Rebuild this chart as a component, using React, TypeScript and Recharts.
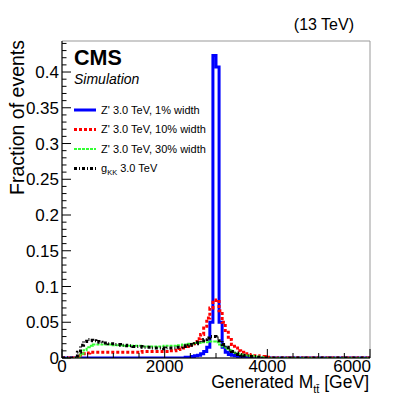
import React from 'react';
import { LineChart, Line, XAxis, YAxis, ReferenceArea } from 'recharts';

const FONT = '"Liberation Sans", Arial, Helvetica, sans-serif';

// histogram binning: 100 bins of 60 GeV from 0 to 6000 GeV
const BIN_WIDTH = 60;
const X_MAX = 6000;
const Y_MAX = 0.4434;

const X_TICKS = [0, 2000, 4000, 6000];
const X_MINOR_STEP = 500;
const Y_TICKS = [0, 0.05, 0.1, 0.15, 0.2, 0.25, 0.3, 0.35, 0.4];
const Y_TICK_LABELS = ['0', '0.05', '0.1', '0.15', '0.2', '0.25', '0.3', '0.35', '0.4'];
const Y_MINOR_STEP = 0.01;

// Z' 3.0 TeV, 1% width
const zp1 = [
  0, 0, 0, 0, 0, 0, 0, 0, 0, 0,
  0, 0, 0, 0, 0, 0, 0, 0, 0, 0,
  0, 0, 0, 0, 0, 0, 0, 0, 0, 0,
  0, 0, 0, 0, 0, 0, 0, 0, 0, 0,
  0.001, 0.001, 0.002, 0.003, 0.004, 0.006, 0.009, 0.015, 0.05, 0.423,
  0.407, 0.05, 0.015, 0.008, 0.005, 0.004, 0.003, 0.002, 0.002, 0.001,
  0.001, 0.001, 0, 0, 0, 0, 0, 0, 0, 0,
  0, 0, 0, 0, 0, 0, 0, 0, 0, 0,
  0, 0, 0, 0, 0, 0, 0, 0, 0, 0,
  0, 0, 0, 0, 0, 0, 0, 0, 0, 0,
];

// Z' 3.0 TeV, 10% width
const zp10 = [
  0, 0, 0, 0, 0, 0, 0.004, 0.006, 0.007, 0.008,
  0.008, 0.008, 0.008, 0.008, 0.008, 0.008, 0.008, 0.008, 0.008, 0.008,
  0.008, 0.008, 0.008, 0.008, 0.008, 0.008, 0.009, 0.009, 0.009, 0.009,
  0.009, 0.009, 0.009, 0.009, 0.009, 0.01, 0.01, 0.011, 0.012, 0.014,
  0.016, 0.018, 0.02, 0.023, 0.027, 0.033, 0.042, 0.056, 0.07, 0.078,
  0.081, 0.066, 0.05, 0.036, 0.026, 0.019, 0.014, 0.01, 0.008, 0.006,
  0.005, 0.004, 0.003, 0.003, 0.002, 0.002, 0.001, 0.001, 0, 0,
  0, 0, 0, 0, 0, 0, 0, 0, 0, 0,
  0, 0, 0, 0, 0, 0, 0, 0, 0, 0,
  0, 0, 0, 0, 0, 0, 0, 0, 0, 0,
];

// Z' 3.0 TeV, 30% width
const zp30 = [
  0, 0, 0, 0, 0, 0, 0.006, 0.011, 0.015, 0.017,
  0.019, 0.019, 0.019, 0.019, 0.019, 0.019, 0.018, 0.018, 0.018, 0.018,
  0.017, 0.017, 0.017, 0.017, 0.017, 0.017, 0.016, 0.016, 0.016, 0.016,
  0.016, 0.016, 0.016, 0.017, 0.017, 0.017, 0.017, 0.018, 0.018, 0.019,
  0.019, 0.02, 0.02, 0.021, 0.021, 0.022, 0.022, 0.022, 0.023, 0.023,
  0.022, 0.019, 0.016, 0.013, 0.011, 0.009, 0.007, 0.006, 0.005, 0.004,
  0.003, 0.003, 0.002, 0.002, 0.001, 0.001, 0, 0, 0, 0,
  0, 0, 0, 0, 0, 0, 0, 0, 0, 0,
  0, 0, 0, 0, 0, 0, 0, 0, 0, 0,
  0, 0, 0, 0, 0, 0, 0, 0, 0, 0,
];

// g_KK 3.0 TeV
const gkk = [
  0, 0, 0, 0, 0, 0.008, 0.018, 0.023, 0.026, 0.025,
  0.024, 0.023, 0.022, 0.021, 0.021, 0.02, 0.02, 0.019, 0.019, 0.018,
  0.018, 0.017, 0.017, 0.016, 0.016, 0.016, 0.015, 0.015, 0.015, 0.014,
  0.014, 0.014, 0.014, 0.013, 0.014, 0.014, 0.014, 0.015, 0.015, 0.016,
  0.017, 0.018, 0.019, 0.02, 0.022, 0.024, 0.026, 0.028, 0.03, 0.03,
  0.028, 0.024, 0.019, 0.015, 0.011, 0.009, 0.007, 0.005, 0.004, 0.003,
  0.003, 0.002, 0.002, 0.001, 0.001, 0, 0, 0, 0, 0,
  0, 0, 0, 0, 0, 0, 0, 0, 0, 0,
  0, 0, 0, 0, 0, 0, 0, 0, 0, 0,
  0, 0, 0, 0, 0, 0, 0, 0, 0, 0,
];

const SERIES = [
  { key: 'zp1', label: "Z' 3.0 TeV, 1% width", color: '#0000ff', width: 3, dash: undefined as string | undefined },
  { key: 'zp10', label: "Z' 3.0 TeV, 10% width", color: '#ff0000', width: 3, dash: '3 2' },
  { key: 'zp30', label: "Z' 3.0 TeV, 30% width", color: '#33ff33', width: 2, dash: '3 1' },
  { key: 'gkk', label: 'gKK', color: '#000000', width: 3, dash: '3 2 1 2' },
];

// bin edges, last edge repeats final bin so the step reaches 6000
const data = Array.from({ length: zp1.length + 1 }, (_, i) => {
  const j = Math.min(i, zp1.length - 1);
  return { m: i * BIN_WIDTH, zp1: zp1[j], zp10: zp10[j], zp30: zp30[j], gkk: gkk[j] };
});

const xTickVals: number[] = [];
for (let v = 0; v <= X_MAX; v += X_MINOR_STEP) xTickVals.push(v);
const yTickVals: number[] = [];
for (let i = 0; i * Y_MINOR_STEP <= Y_MAX; i++) yTickVals.push(Math.round(i * Y_MINOR_STEP * 100) / 100);

function YTick(props: any) {
  const { x, y, payload } = props;
  const idx = Y_TICKS.findIndex((t) => Math.abs(t - payload.value) < 1e-6);
  const major = idx >= 0;
  return (
    <g>
      <line x1={x} x2={x + (major ? 9 : 4.5)} y1={y} y2={y} stroke="#000" strokeWidth={1} />
      {major && (
        <text x={x - 3} y={y} dy="0.36em" textAnchor="end" fontSize={17} fontFamily={FONT} fill="#000">
          {Y_TICK_LABELS[idx]}
        </text>
      )}
    </g>
  );
}

function XTick(props: any) {
  const { x, y, payload } = props;
  const major = X_TICKS.includes(payload.value);
  const last = payload.value === X_MAX;
  return (
    <g>
      <line x1={x} x2={x} y1={y} y2={y - (major ? 9 : 5)} stroke="#000" strokeWidth={1} />
      {major && (
        <text x={last ? x + 1 : x} y={y + 14} textAnchor={last ? 'end' : 'middle'} fontSize={17} fontFamily={FONT} fill="#000">
          {payload.value}
        </text>
      )}
    </g>
  );
}

export default function App() {
  return (
    <div style={{ position: 'fixed', left: 0, top: 0, width: 411, height: 399, background: '#fff' }}>
      <LineChart width={411} height={399} data={data} margin={{ top: 41, right: 41, bottom: 0, left: 0 }}>
        <XAxis
          dataKey="m"
          type="number"
          domain={[0, X_MAX]}
          ticks={xTickVals}
          interval={0}
          height={41}
          tickSize={0}
          tickMargin={0}
          tick={<XTick />}
          axisLine={{ stroke: '#000' }}
          tickLine={false}
        />
        <YAxis
          type="number"
          domain={[0, Y_MAX]}
          ticks={yTickVals}
          interval={0}
          width={62}
          tickSize={0}
          tickMargin={0}
          tick={<YTick />}
          axisLine={{ stroke: '#000' }}
          tickLine={false}
          allowDataOverflow
        />
        <ReferenceArea x1={0} x2={X_MAX} y1={0} y2={Y_MAX} fill="none" stroke="#999" strokeWidth={1} />
        {SERIES.map((s) => (
          <Line
            key={s.key}
            dataKey={s.key}
            type="stepAfter"
            stroke={s.color}
            strokeWidth={s.width}
            strokeDasharray={s.dash}
            dot={false}
            activeDot={false}
            isAnimationActive={false}
          />
        ))}
      </LineChart>
      <svg width={411} height={399} style={{ position: 'absolute', left: 0, top: 0, pointerEvents: 'none' }} fontFamily={FONT}>
        <text x={354} y={30} textAnchor="end" fontSize={16}>(13 TeV)</text>
        <text x={74} y={65} fontSize={21.5} fontWeight="bold">CMS</text>
        <text x={74} y={84} fontSize={14} fontStyle="italic">Simulation</text>
        <text transform="translate(24,40) rotate(-90)" textAnchor="end" fontSize={19.5}>Fraction of events</text>
        <text x={369} y={388} textAnchor="end" fontSize={17.5}>
          Generated M<tspan fontSize={11} dy={5}>t{'t\u0304'}</tspan>
          <tspan dy={-5}> [GeV]</tspan>
        </text>
        {SERIES.map((s, i) => {
          const y = 110 + i * 19.5;
          return (
            <g key={s.key}>
              <line x1={74} x2={96} y1={y} y2={y} stroke={s.color} strokeWidth={s.width} strokeDasharray={s.dash} />
              {s.key === 'gkk' ? (
                <text x={101} y={y} dy="0.36em" fontSize={11}>
                  g<tspan fontSize={7.5} dy={3}>KK</tspan>
                  <tspan dy={-3}> 3.0 TeV</tspan>
                </text>
              ) : (
                <text x={101} y={y} dy="0.36em" fontSize={11}>{s.label}</text>
              )}
            </g>
          );
        })}
      </svg>
    </div>
  );
}
